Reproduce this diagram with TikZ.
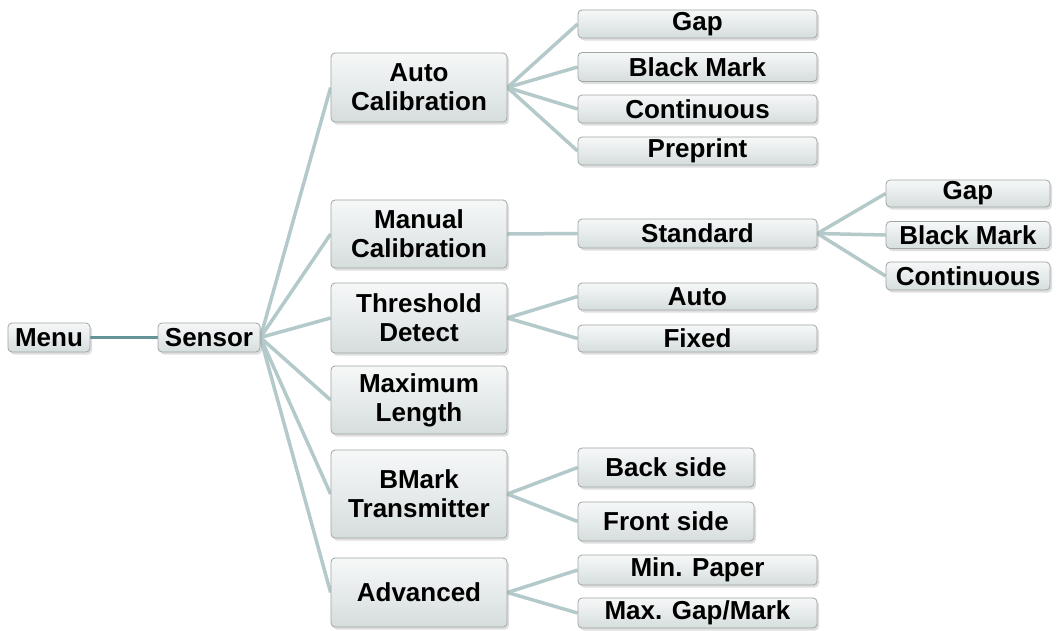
\documentclass[tikz,border=0pt]{standalone}
\usepackage{fontspec}
\setmainfont{Liberation Sans}
\usetikzlibrary{shadows,backgrounds}
\definecolor{boxborder}{RGB}{160,165,165}
\definecolor{boxtop}{RGB}{246,248,248}
\definecolor{boxbot}{RGB}{214,221,221}
\definecolor{linkc}{RGB}{180,202,202}
\definecolor{rootlink}{RGB}{100,148,152}
\tikzset{
  box/.style={draw=boxborder, line width=0.8pt, rounded corners=4pt,
    top color=boxtop, bottom color=boxbot,
    font=\fontsize{26}{29}\selectfont\bfseries, align=center, inner sep=0pt,
    drop shadow={shadow xshift=2pt, shadow yshift=-2.5pt, opacity=0.25}},
  link/.style={draw=linkc, line width=3.5pt},
  rootl/.style={draw=rootlink, line width=3.5pt},
  lvone/.style={box, minimum width=176pt},
  lvtwo/.style={box, minimum width=239pt},
  lvthree/.style={box, minimum width=164pt},
}
\begin{document}
\begin{tikzpicture}[x=1pt,y=-1pt]
\useasboundingbox (0,0) rectangle (1057,630);
% root
\node[box, minimum width=82pt, minimum height=29pt] (menu) at (49,337.5) {Menu};
\node[box, minimum width=102pt, minimum height=29pt] (sensor) at (209,337.5) {Sensor};
% level 1
\node[lvone, minimum height=69pt] (ac) at (419,87.5) {Auto\\Calibration};
\node[lvone, minimum height=68pt] (mc) at (419,234) {Manual\\Calibration};
\node[lvone, minimum height=70pt] (td) at (419,318) {Threshold\\Detect};
\node[lvone, minimum height=68pt] (ml) at (419,400) {Maximum\\Length};
\node[lvone, minimum height=88pt] (bt) at (419,494) {BMark\\Transmitter};
\node[lvone, minimum height=69pt] (adv) at (419,592.5) {Advanced};
% level 2
\node[lvtwo, minimum height=28pt] (g1) at (697.5,24) {Gap};
\node[lvtwo, minimum height=29pt] (bm1) at (697.5,67) {Black Mark};
\node[lvtwo, minimum height=28pt] (c1) at (697.5,109) {Continuous};
\node[lvtwo, minimum height=28pt] (p1) at (697.5,151) {Preprint};
\node[lvtwo, minimum height=29pt] (std) at (697.5,233.5) {Standard};
\node[lvtwo, minimum height=27pt] (tauto) at (697.5,296.5) {Auto};
\node[lvtwo, minimum height=27pt] (tfix) at (697.5,338.5) {Fixed};
\node[box, minimum width=176pt, minimum height=39pt] (back) at (666,467.5) {Back side};
\node[box, minimum width=176pt, minimum height=39pt] (front) at (666,521.5) {Front side};
\node[lvtwo, minimum height=30pt] (minp) at (697.5,570) {Min. Paper};
\node[lvtwo, minimum height=30pt] (maxg) at (697.5,613) {Max. Gap/Mark};
% level 3
\node[lvthree, minimum height=27pt] (g3) at (968,193.5) {Gap};
\node[lvthree, minimum height=27pt] (bm3) at (968,235) {Black Mark};
\node[lvthree, minimum height=28pt] (c3) at (968,276) {Continuous};
\begin{pgfonlayer}{background}
\draw[rootl] (menu.east) -- (sensor.west);
\foreach \n in {ac,mc,td,ml,bt,adv} \draw[link] (sensor.east) -- (\n.west);
\foreach \n in {g1,bm1,c1,p1} \draw[link] (ac.east) -- (\n.west);
\draw[link] (mc.east) -- (std.west);
\foreach \n in {tauto,tfix} \draw[link] (td.east) -- (\n.west);
\foreach \n in {back,front} \draw[link] (bt.east) -- (\n.west);
\foreach \n in {minp,maxg} \draw[link] (adv.east) -- (\n.west);
\foreach \n in {g3,bm3,c3} \draw[link] (std.east) -- (\n.west);
\end{pgfonlayer}
\end{tikzpicture}
\end{document}
